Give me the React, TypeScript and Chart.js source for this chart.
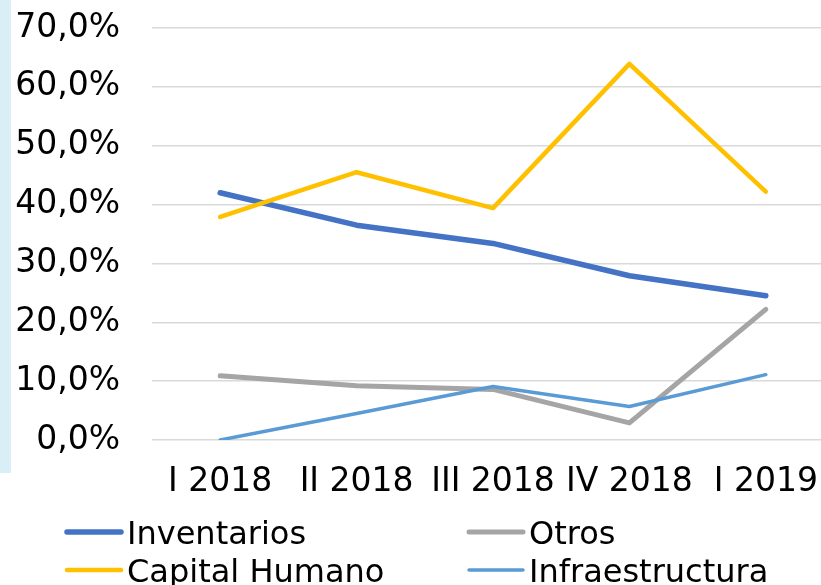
import React, { useEffect, useRef } from "react";
import { Chart, registerables } from "chart.js";

Chart.register(...registerables);

const categories = ["I 2018", "II 2018", "III 2018", "IV 2018", "I 2019"];
const inventarios = [42.0, 36.5, 33.4, 27.9, 24.5];
const otros = [10.9, 9.2, 8.6, 2.9, 22.2];
const capitalHumano = [37.9, 45.5, 39.4, 63.9, 42.2];
const infraestructura = [0.0, 4.5, 9.1, 5.7, 11.1];
const seriesNames = ["Inventarios", "Otros", "Capital Humano", "Infraestructura"];
const yMin = 0;
const yMax = 70;
const yStep = 10;

const FONT = "'DejaVu Sans', Verdana, sans-serif";
const FONT_SIZE = 33;

const legendPlugin = {
  id: "gridLegend",
  afterDraw(chart: any) {
    const ctx = chart.ctx;
    const ds = chart.data.datasets;
    const left = 67;
    const colW = 402;
    const top = 532;
    const rowH = 38;
    ctx.save();
    ctx.font = `32px ${FONT}`;
    ctx.textBaseline = "alphabetic";
    ctx.textAlign = "left";
    ds.forEach((d: any, i: number) => {
      const col = i % 2;
      const row = Math.floor(i / 2);
      const x0 = left + col * colW;
      const y = top + row * rowH;
      ctx.strokeStyle = d.borderColor;
      ctx.lineWidth = d.borderWidth;
      ctx.lineCap = "round";
      ctx.beginPath();
      ctx.moveTo(x0, y);
      ctx.lineTo(x0 + 54, y);
      ctx.stroke();
      ctx.fillStyle = "#000";
      ctx.fillText(d.label, x0 + 60, y + 12);
    });
    ctx.restore();
  },
};

export default function App() {
  const ref = useRef<HTMLCanvasElement | null>(null);
  useEffect(() => {
    if (!ref.current) return;
    const mk = (label: string, data: number[], color: string, width: number, order: number) => ({
      label,
      data,
      order,
      borderColor: color,
      backgroundColor: color,
      borderWidth: width,
      pointRadius: 0,
      pointHoverRadius: 0,
      tension: 0,
      fill: false,
      borderCapStyle: "round" as const,
      borderJoinStyle: "round" as const,
    });
    const chart = new Chart(ref.current, {
      type: "line",
      data: {
        labels: categories,
        datasets: [
          mk(seriesNames[0], inventarios, "#4472C4", 5.5, 4),
          mk(seriesNames[1], otros, "#A5A5A5", 5, 3),
          mk(seriesNames[2], capitalHumano, "#FFC000", 4.5, 2),
          mk(seriesNames[3], infraestructura, "#5B9BD5", 3.5, 1),
        ],
      },
      options: {
        responsive: false,
        animation: false,
        devicePixelRatio: 1,
        layout: { padding: { top: 28, left: 0, right: 6, bottom: 0 } },
        plugins: {
          legend: { display: false },
          tooltip: { enabled: false },
          title: { display: false },
        },
        scales: {
          x: {
            offset: true,
            grid: { display: false, drawTicks: false },
            border: { display: false },
            ticks: {
              color: "#000",
              font: { family: FONT, size: FONT_SIZE },
              padding: 23,
              maxRotation: 0,
              minRotation: 0,
              autoSkip: false,
            },
            afterFit: (s: any) => {
              s.height = 145;
              s.paddingLeft = 0;
              s.paddingRight = 0;
            },
          },
          y: {
            min: yMin,
            max: yMax,
            grid: { color: "#D9D9D9", lineWidth: 1.4, drawTicks: false },
            border: { display: false },
            ticks: {
              stepSize: yStep,
              color: "#000",
              font: { family: FONT, size: FONT_SIZE },
              padding: 32,
              callback: (v: any) => Number(v).toFixed(1).replace(".", ",") + "%",
            },
            afterFit: (s: any) => {
              s.width = 152;
              s.paddingTop = 0;
              s.paddingBottom = 0;
            },
          },
        },
      },
      plugins: [legendPlugin],
    });
    return () => chart.destroy();
  }, []);

  return (
    <div
      style={{
        position: "fixed",
        left: 0,
        top: 0,
        width: 821,
        height: 585,
        overflow: "hidden",
        background: "#fff",
      }}
    >
      <div
        style={{
          position: "absolute",
          left: 0,
          top: 0,
          width: 11,
          height: 473,
          background: "#DAEEF8",
        }}
      />
      <canvas
        ref={ref}
        width={840}
        height={585}
        style={{ position: "absolute", left: 0, top: 0, width: 840, height: 585 }}
      />
    </div>
  );
}
